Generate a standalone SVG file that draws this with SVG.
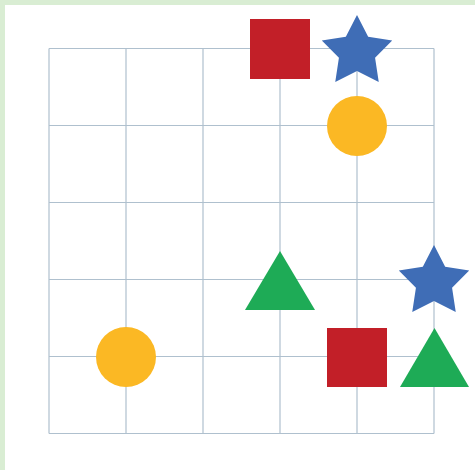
<svg xmlns="http://www.w3.org/2000/svg" width="475" height="470" viewBox="0 0 475 470">
  <style>
    .grid line { stroke: #AFC0CE; stroke-width: 1.2; }
    .red { fill: #C21F28; }
    .blue { fill: #3F6DB6; }
    .yellow { fill: #FBB824; }
    .green { fill: #1EAB56; }
  </style>
  <defs>
    <path id="star" d="M0,-37 L11.17,-15.37 L35.19,-11.43 L18.07,5.87 L21.75,29.93 L0,19 L-21.75,29.93 L-18.07,5.87 L-35.19,-11.43 L-11.17,-15.37 Z"/>
  </defs>
  <rect x="0" y="0" width="475" height="470" fill="#D9EDD3"/>
  <rect x="5" y="5" width="470" height="465" fill="#FFFFFF"/>
  <g id="grid" class="grid">
    <line x1="49" y1="48.5" x2="49" y2="433.5"/>
    <line x1="126" y1="48.5" x2="126" y2="433.5"/>
    <line x1="203" y1="48.5" x2="203" y2="433.5"/>
    <line x1="280" y1="48.5" x2="280" y2="433.5"/>
    <line x1="357" y1="48.5" x2="357" y2="433.5"/>
    <line x1="434" y1="48.5" x2="434" y2="433.5"/>
    <line x1="49" y1="48.5" x2="434" y2="48.5"/>
    <line x1="49" y1="125.5" x2="434" y2="125.5"/>
    <line x1="49" y1="202.5" x2="434" y2="202.5"/>
    <line x1="49" y1="279.5" x2="434" y2="279.5"/>
    <line x1="49" y1="356.5" x2="434" y2="356.5"/>
    <line x1="49" y1="433.5" x2="434" y2="433.5"/>
  </g>
  <g id="square1"><rect class="red" x="250" y="19" width="60" height="60"/></g>
  <g id="star1"><use href="#star" class="blue" transform="translate(357,52)"/></g>
  <g id="circle1"><circle class="yellow" cx="357" cy="126" r="30"/></g>
  <g id="triangle1"><polygon class="green" points="280,251 315,310 245,310"/></g>
  <g id="star2"><use href="#star" class="blue" transform="translate(434,282)"/></g>
  <g id="square2"><rect class="red" x="327" y="328" width="60" height="59"/></g>
  <g id="triangle2"><polygon class="green" points="434.5,328 469,387 400,387"/></g>
  <g id="circle2"><circle class="yellow" cx="126" cy="357" r="30"/></g>
</svg>
